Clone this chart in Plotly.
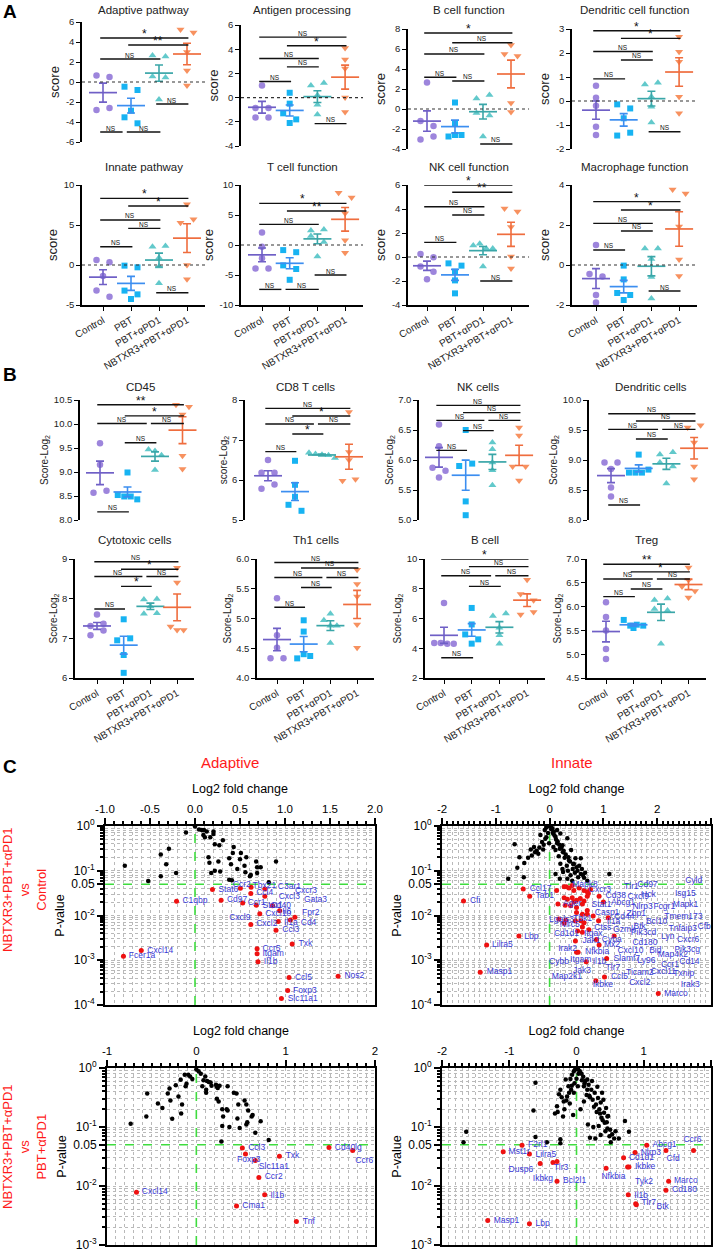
import numpy as np
import plotly.graph_objects as go

W, H = 714, 1253
FONT = "Arial, Liberation Sans, sans-serif"
GROUPS = ["Control", "PBT", "PBT+αPD1", "NBTXR3+PBT+αPD1"]

# ---------------- Panel A data (score per mouse) ----------------
adaptive_pathway = [[0.65, 0.5, -2.8, -2.6], [-0.47, -0.8, -2.87, -3.53, -4.13],
                    [2.65, 2.55, 0.55, 0.45, -1.75], [5.25, 4.95, 3.0, 1.15, -0.35]]
adaptive_pathway_sig = [(0, 3, 4.4, "*"), (1, 3, 3.7, "**"), (0, 2, 2.3, "NS"), (2, 3, -2.2, "NS"),
                        (0, 1, -5.0, "NS"), (1, 2, -5.0, "NS")]
antigen_processing = [[1.0, -0.85, -0.85, -1.65, -1.65], [0.4, -0.5, -1.3, -1.8, -2.1],
                      [1.0, 1.2, 0.2, -0.6, -1.4], [4.1, 3.15, 2.4, 0.0, -1.2]]
antigen_processing_sig = [(0, 3, 5.0, "NS"), (1, 3, 4.28, "*"), (0, 2, 3.23, "NS"), (1, 2, 2.54, "NS"),
                          (0, 1, 1.33, "NS"), (2, 3, -2.15, "NS")]
b_cell_function = [[2.65, -1.2, -1.7, -3.05, -2.75], [0.65, -1.5, -2.75, -2.6, -2.6],
                   [1.05, 1.4, -0.4, -0.65, -2.75], [6.4, 5.5, 5.3, 0.6, -0.3]]
b_cell_function_sig = [(0, 3, 7.6, "*"), (1, 3, 6.63, "NS"), (0, 2, 5.5, "NS"), (0, 1, 3.17, "NS"),
                       (1, 2, 2.8, "NS"), (2, 3, -3.5, "NS")]
dendritic_cell_function = [[0.64, 0.14, -0.2, -1.07, -1.42], [-0.14, -0.31, -0.72, -1.44, -1.32],
                           [0.69, 0.76, 0.18, -0.24, -0.9], [2.68, 2.05, 1.64, 0.18, -0.51]]
dendritic_cell_function_sig = [(0, 3, 2.93, "*"), (1, 3, 2.61, "*"), (0, 2, 2.06, "NS"), (1, 2, 1.71, "NS"),
                               (0, 1, 0.92, "NS"), (2, 3, -1.28, "NS")]
innate_pathway = [[0.63, 0.33, -1.38, -3.2, -3.96], [-0.08, -0.29, -3.2, -3.67, -4.25],
                  [2.29, 2.38, 0.92, -0.2, -2.29], [7.58, 5.29, 5.71, 0.0, -1.79]]
innate_pathway_sig = [(0, 3, 8.33, "*"), (1, 3, 7.38, "*"), (0, 2, 5.63, "NS"), (1, 2, 4.58, "NS"),
                      (0, 1, 2.29, "NS"), (2, 3, -3.46, "NS")]
t_cell_function = [[2.1, -0.3, -2.2, -3.9, -3.9], [-0.85, -1.2, -3.4, -4.0, -5.8],
                   [2.4, 2.6, 1.5, 0.5, -1.9], [8.7, 7.9, 5.3, 0.8, -1.3]]
t_cell_function_sig = [(0, 3, 6.94, "*"), (1, 3, 5.67, "**"), (0, 2, 3.44, "NS"), (2, 3, -5.0, "NS"),
                       (0, 1, -7.4, "NS"), (1, 2, -7.4, "NS")]
nk_cell_function = [[0.25, -0.03, -0.8, -1.22, -1.86], [-0.53, -0.72, -1.22, -1.95, -3.03],
                    [0.95, 1.1, 0.7, 0.7, -0.8], [4.05, 3.8, 2.5, 0.05, -0.95]]
nk_cell_function_sig = [(0, 3, 6.0, "*"), (1, 3, 5.39, "**"), (0, 2, 4.19, "NS"), (1, 2, 3.5, "NS"),
                        (0, 1, 1.22, "NS"), (2, 3, -2.0, "NS")]
macrophage_function = [[1.0, -0.45, -0.58, -1.5, -1.87], [-0.03, -0.72, -1.4, -1.5, -1.75],
                       [0.83, 0.83, 0.3, -0.6, -1.67], [3.78, 3.58, 1.92, 0.28, -0.55]]
macrophage_function_sig = [(0, 3, 3.17, "*"), (1, 3, 2.75, "*"), (0, 2, 2.08, "NS"), (1, 2, 1.7, "NS"),
                           (0, 1, 0.75, "NS"), (2, 3, -1.3, "NS")]

# ---------------- Panel B data (Score-Log2) ----------------
cd45 = [[9.6, 9.15, 8.57, 8.61], [8.99, 8.52, 8.49, 8.49, 8.43], [9.47, 9.44, 9.35, 9.04],
        [10.4, 10.36, 10.2, 9.34, 9.06]]
cd45_sig = [(0, 3, 10.4, "**"), (1, 3, 10.17, "*"), (0, 2, 10.01, "NS"), (2, 3, 10.01, "NS"),
            (1, 2, 9.61, "NS"), (0, 1, 8.17, "NS")]
cd8_t_cells = [[6.5, 6.18, 6.18, 5.78, 5.89], [6.48, 5.88, 5.58, 5.38, 5.23],
               [6.68, 6.65, 6.63, 6.62, 6.55], [7.7, 6.7, 6.5, 5.98, 6.02]]
cd8_t_cells_sig = [(0, 3, 7.79, "NS"), (1, 3, 7.6, "*"), (0, 2, 7.4, "NS"), (2, 3, 7.4, "NS"),
                   (1, 2, 7.15, "*"), (0, 1, 6.71, "NS")]
nk_cells = [[6.59, 6.23, 5.87, 5.82, 5.71], [6.5, 5.9, 5.94, 5.31, 5.08],
            [6.29, 6.18, 5.96, 5.83, 5.58], [6.54, 6.41, 5.89, 5.89, 5.66]]
nk_cells_sig = [(0, 3, 6.91, "NS"), (1, 3, 6.79, "NS"), (0, 2, 6.66, "NS"), (2, 3, 6.66, "NS"),
                (1, 2, 6.49, "NS"), (0, 1, 6.16, "NS")]
dendritic_cells = [[8.96, 8.96, 8.85, 8.54, 8.39], [9.09, 8.79, 8.79, 8.79, 8.84],
                   [9.09, 9.13, 8.96, 8.89, 8.61], [9.54, 9.58, 9.29, 8.89, 8.68]]
dendritic_cells_sig = [(0, 3, 9.77, "NS"), (1, 3, 9.65, "NS"), (0, 2, 9.51, "NS"), (2, 3, 9.51, "NS"),
                       (1, 2, 9.35, "NS"), (0, 1, 8.25, "NS")]
cytotoxic_cells = [[7.6, 7.31, 7.37, 7.08, 7.2], [7.48, 6.95, 7.0, 6.58, 6.13],
                   [7.98, 7.99, 7.81, 7.62, 7.63], [8.78, 8.41, 7.3, 7.21, 7.21]]
cytotoxic_cells_sig = [(0, 3, 8.93, "NS"), (1, 3, 8.74, "*"), (0, 2, 8.56, "NS"), (2, 3, 8.56, "NS"),
                       (1, 2, 8.31, "*"), (0, 1, 7.74, "NS")]
th1_cells = [[5.34, 4.72, 4.51, 4.33, 4.33], [4.97, 4.78, 4.33, 4.4, 4.37],
             [5.08, 4.97, 4.88, 4.88, 4.59], [5.82, 5.58, 5.37, 4.9, 4.51]]
th1_cells_sig = [(0, 3, 5.94, "NS"), (1, 3, 5.85, "NS"), (0, 2, 5.69, "NS"), (2, 3, 5.69, "NS"),
                 (1, 2, 5.52, "NS"), (0, 1, 5.19, "NS")]
b_cell = [[7.05, 4.35, 4.35, 4.3, 4.3], [6.71, 5.6, 4.93, 4.31, 4.6],
          [6.16, 6.33, 5.38, 4.87, 4.31], [8.6, 7.64, 7.22, 6.27, 6.44]]
b_cell_sig = [(0, 3, 10.0, "*"), (1, 3, 9.49, "NS"), (0, 2, 8.87, "NS"), (2, 3, 8.87, "NS"),
              (1, 2, 8.16, "NS"), (0, 1, 3.36, "NS")]
treg = [[6.09, 5.78, 5.5, 5.11, 4.9], [5.72, 5.6, 5.62, 5.6, 5.55],
        [6.14, 6.17, 5.95, 5.92, 5.22], [6.82, 6.56, 6.42, 6.33, 6.19]]
treg_sig = [(0, 3, 6.89, "**"), (1, 3, 6.73, "*"), (0, 2, 6.58, "NS"), (2, 3, 6.58, "NS"),
            (1, 2, 6.37, "NS"), (0, 1, 6.21, "NS")]

# ---------------- Panel C data (log2 fold change, P-value) ----------------
# Adaptive, NBTXR3+PBT+aPD1 vs Control
c1_ns_lfc = [-0.78, -0.52, -0.38, -0.29, -0.32, -0.38, -0.21, -0.10, 0.0, 0.045, 0.075, 0.10, 0.13, 0.093,
             0.11, 0.17, 0.205, 0.22, 0.27, 0.31, 0.15, 0.16, 0.18, 0.22, 0.26, 0.28, 0.38, 0.40, 0.42,
             0.38, 0.41, 0.47, 0.50, 0.51, 0.55, 0.56, 0.61, 0.62, 0.68, 0.69, 0.69, 0.73, 0.82, 0.90,
             0.57, 0.43, 0.205]
c1_ns_p = [0.13, 0.059, 0.23, 0.31, 0.14, 0.075, 0.089, 0.72, 0.97, 0.84, 0.81, 0.81, 0.75, 0.63, 0.56,
           0.56, 0.75, 0.39, 0.37, 0.48, 0.2, 0.15, 0.089, 0.10, 0.16, 0.096, 0.19, 0.14, 0.25, 0.063,
           0.061, 0.11, 0.18, 0.25, 0.13, 0.093, 0.075, 0.08, 0.16, 0.12, 0.089, 0.12, 0.055, 0.16, 0.2,
           0.34, 0.66]
c1_sig_lfc = [-0.795, -0.597, -0.205, 0.194, 0.504, 0.623, 0.62, 0.776, 0.776, 0.29, 0.53, 0.68, 0.86, 0.94,
              0.72, 1.11, 1.06, 0.925, 0.62, 0.90, 1.08, 0.69, 0.69, 0.70, 1.045, 1.59, 1.03, 0.96]
c1_sig_p = [0.00123, 0.00166, 0.0207, 0.038, 0.0407, 0.0427, 0.031, 0.039, 0.027, 0.022, 0.019, 0.017,
            0.0166, 0.0128, 0.011, 0.0091, 0.0079, 0.0073, 0.0063, 0.0047, 0.0023, 0.0018, 0.0014,
            0.00092, 0.00041, 0.00044, 0.00021, 0.000139]
c1_labels = ["Fcer1a", "Cxcl14", "C1qbp", "Stat6", "Ccr2", "Tbx21", "Ccl4", "C3ar1", "Cxcr3", "Cxcl3",
             "Gata3", "Cd97", "Ccr1", "Stat1", "Cd40", "Cxcl10", "Il6", "Fpr2", "Cxcl9", "Il1a", "Cd4",
             "Cxcl2", "Ccl3", "Txk", "Ccr5", "Itgam", "Il1b", "Ccl5", "Nos2", "Foxp3", "Slc11a1"]
c1_label_lfc = [-0.735, -0.53, -0.14, 0.26, 0.42, 0.64, 0.68, 0.92, 1.11, 0.93, 1.21, 0.355, 0.585, 0.75,
                0.84, 0.78, 0.97, 1.19, 0.38, 0.99, 1.175, 0.68, 0.97, 1.15, 0.75, 0.75, 0.765, 1.11, 1.66,
                1.09, 1.03]
c1_label_p = [0.00123, 0.00166, 0.0208, 0.038, 0.048, 0.047, 0.0314, 0.043, 0.036, 0.0255, 0.0225, 0.0225,
              0.0196, 0.0162, 0.0166, 0.0107, 0.0123, 0.0112, 0.0087, 0.0069, 0.0067, 0.0064, 0.0047,
              0.0023, 0.0018, 0.00139, 0.00092, 0.00041, 0.00044, 0.00021, 0.000139]

# Innate, NBTXR3+PBT+aPD1 vs Control
c2_ns_lfc = [-0.77, -0.65, -0.56, -0.60, -0.48, -0.47, -0.40, -0.35, -0.29, -0.24, -0.21, -0.17, -0.14,
             -0.12, -0.09, -0.06, -0.025, 0.02, 0.05, 0.08, -0.06, -0.01, 0.11, 0.14, 0.11, 0.17, 0.19,
             0.24, 0.25, 0.28, 0.20, 0.24, 0.32, 0.34, 0.36, 0.39, 0.43, 0.45, 0.50, 0.53, 0.58, 0.64,
             0.40, 0.48, 0.33, 0.19, 0.25, 0.11, 0.58, 1.11, 0.14, 0.20, 0.07, 0.33, 0.42, 0.70,
             0.03, 0.06, 0.09, 0.12, 0.15, 0.18, 0.22, 0.26, 0.30, 0.35, 0.38, 0.44, 0.47, 0.52, 0.55,
             0.60, 0.62, 0.66, -0.03, -0.08, -0.11, -0.19, -0.27, -0.33]
c2_ns_p = [0.066, 0.39, 0.2, 0.117, 0.072, 0.149, 0.196, 0.30, 0.34, 0.28, 0.24, 0.63, 0.44, 0.30, 0.81,
           0.93, 0.99, 0.97, 0.89, 0.75, 0.56, 0.41, 0.57, 0.41, 0.29, 0.21, 0.31, 0.37, 0.26, 0.196,
           0.144, 0.11, 0.13, 0.10, 0.17, 0.079, 0.11, 0.144, 0.12, 0.072, 0.085, 0.07, 0.29, 0.19,
           0.066, 0.066, 0.094, 0.085, 0.19, 0.085, 0.81, 0.68, 0.34, 0.53, 0.06, 0.06,
           0.85, 0.7, 0.62, 0.5, 0.45, 0.38, 0.33, 0.28, 0.23, 0.2, 0.16, 0.14, 0.09, 0.1, 0.13, 0.11,
           0.08, 0.09, 0.7, 0.52, 0.38, 0.33, 0.26, 0.22]
c2_sig_lfc = [-1.60, -1.17, -1.29, -0.57, -0.49, -0.37, 0.13, 0.27, 0.31, 0.36, 0.42, 0.45, 0.55, 0.64,
              0.70, 0.76, 0.72, 0.27, 0.33, 0.42, 0.50, 0.57, 0.64, 0.70, 0.92, 1.0, 0.155, 0.29, 0.39,
              0.45, 0.50, 0.61, 0.70, 0.50, 0.61, 0.81, 0.70, 0.17, 0.30, 0.48, 0.58, 0.64, 0.91, 1.09,
              0.27, 0.61, 0.52, 0.61, 0.73, 0.87, 0.48, 0.92, 1.20, 0.50, 0.53, 0.68, 1.06, 0.86, 1.02,
              2.02]
c2_sig_p = [0.021, 0.0022, 0.00054, 0.0035, 0.039, 0.027, 0.036, 0.044, 0.044, 0.041, 0.047, 0.036, 0.041,
            0.036, 0.034, 0.038, 0.031, 0.025, 0.023, 0.025, 0.022, 0.024, 0.021, 0.027, 0.027, 0.02,
            0.018, 0.017, 0.0165, 0.02, 0.015, 0.018, 0.013, 0.0117, 0.0107, 0.0098, 0.0107, 0.0083,
            0.0078, 0.0076, 0.0076, 0.0069, 0.0076, 0.0089, 0.0067, 0.0055, 0.0045, 0.0042, 0.0048,
            0.0029, 0.0027, 0.0022, 0.0035, 0.0015, 0.0015, 0.00092, 0.0011, 0.00035, 0.00042, 0.00018]
c2_labels = ["Cfi", "Ccl17", "Tab1", "Lbp", "Lilra5", "Masp1", "Mapk8", "Cxcr3", "Tlr1", "Cd97", "Cyld",
             "Hck", "Isg15", "Cxcl9", "Cd38", "Nlrp3", "Fcgr1", "Mapk1", "Abcg1", "Stat1", "Ager", "Casp1",
             "Zbp1", "Cd44", "Bcl10", "Tmem173", "Lgals3", "Tbk1", "Il1a", "Nlrc5", "Ctss", "Btk", "Gzmk",
             "Cfb", "Tnfaip3", "Pik3cd", "Cd1d1", "Itgax", "Lyn", "Cyba", "Cxcr6", "Jak1", "Cd180", "Mx2",
             "Irak2", "Nfkbia", "Itgam", "Cybb", "Il1b", "Cxcl10", "Bid", "Pik3cg", "Map4k2", "Slamf7",
             "Ly96", "Cd14", "Ccr1", "Tlr7", "Jak3", "Cxcl11", "Ticam2", "Txnip", "Map2k1", "Ccl5",
             "Cxcl2", "Irak3", "Ikbke", "Marco"]
c2_label_lfc = [-1.48, -0.37, -0.26, -0.47, -1.07, -1.17, 0.42, 0.73, 1.385, 1.63, 2.52, 1.70, 2.33, 1.45,
                1.04, 1.54, 1.93, 2.29, 1.14, 0.78, 0.25, 0.84, 1.43, 1.20, 1.79, 2.13, -0.01, 0.435, 1.06,
                0.19, 0.83, 1.56, 1.18, 2.75, 2.21, 1.51, 0.08, 0.64, 2.07, 0.97, 2.37, 0.61, 1.54, 1.01,
                0.16, 0.66, 0.38, -0.01, 0.80, 1.26, 1.85, 2.32, 2.01, 1.19, 1.63, 2.41, 2.07, 1.04, 0.435,
                1.88, 1.42, 2.30, 0.04, 1.14, 1.48, 2.44, 0.80, 2.13]
c2_label_p = [0.0214, 0.039, 0.027, 0.0034, 0.0022, 0.00054, 0.048, 0.038, 0.043, 0.048, 0.06, 0.029,
              0.030, 0.0256, 0.027, 0.0157, 0.0157, 0.0174, 0.0187, 0.0174, 0.018, 0.0113, 0.0107, 0.0093,
              0.0073, 0.0093, 0.008, 0.0083, 0.0073, 0.0062, 0.0052, 0.0056, 0.0048, 0.0056, 0.0049,
              0.004, 0.0038, 0.0038, 0.0034, 0.0029, 0.0028, 0.0027, 0.0025, 0.0022, 0.0018, 0.0015,
              0.001, 0.00092, 0.00092, 0.0016, 0.0016, 0.0017, 0.0013, 0.0011, 0.00095, 0.00092, 0.0008,
              0.00069, 0.00059, 0.00056, 0.00052, 0.00049, 0.00042, 0.00042, 0.00032, 0.00028, 0.00028,
              0.00018]

# Adaptive, NBTXR3+PBT+aPD1 vs PBT+aPD1
c3_ns_lfc = [-0.735, -0.56, -0.55, -0.43, -0.38, -0.30, -0.32, -0.29, -0.27, -0.23, -0.20, -0.16, -0.17,
             -0.175, -0.13, -0.12, -0.11, -0.09, -0.07, -0.045, 0.0, 0.026, 0.05, 0.067, 0.08, 0.10, 0.12,
             0.11, 0.14, 0.16, 0.17, 0.11, 0.22, 0.23, 0.24, 0.26, 0.23, 0.25, 0.29, 0.35, 0.34, 0.35,
             0.30, 0.29, 0.37, 0.46, 0.42, 0.45, 0.47, 0.485, 0.56, 0.54, 0.58, 0.56, 0.57, 0.63, 0.62,
             0.66, 0.72, 0.81, 0.28]
c3_ns_p = [0.114, 0.15, 0.37, 0.25, 0.21, 0.45, 0.37, 0.28, 0.138, 0.51, 0.33, 0.24, 0.17, 0.63, 0.77,
           0.49, 0.54, 0.77, 0.72, 0.65, 0.94, 0.88, 0.8, 0.49, 0.62, 0.72, 0.6, 0.43, 0.58, 0.57, 0.5,
           0.38, 0.52, 0.48, 0.46, 0.5, 0.30, 0.27, 0.20, 0.49, 0.2, 0.19, 0.15, 0.104, 0.1, 0.14, 0.38,
           0.37, 0.24, 0.096, 0.24, 0.28, 0.19, 0.11, 0.12, 0.16, 0.15, 0.08, 0.125, 0.06, 0.057]
c3_sig_lfc = [0.515, 0.55, 0.66, 0.93, 1.485, 1.75, 0.70, 0.765, 0.45, 1.12, -0.67]
c3_sig_p = [0.044, 0.035, 0.027, 0.032, 0.045, 0.04, 0.014, 0.0071, 0.0046, 0.0025, 0.0078]
c3_labels = ["Ccl3", "Foxp3", "Slc11a1", "Txk", "Cd40lg", "Ccr6", "Ccr2", "Il1b", "Cma1", "Tnf", "Cxcl14"]
c3_label_lfc = [0.58, 0.455, 0.70, 1.0, 1.55, 1.78, 0.765, 0.83, 0.515, 1.19, -0.61]
c3_label_p = [0.0437, 0.0277, 0.0214, 0.0324, 0.0447, 0.0263, 0.0144, 0.0069, 0.0046, 0.0025, 0.0078]

# Innate, NBTXR3+PBT+aPD1 vs PBT+aPD1
c4_ns_lfc = [-1.68, -1.64, -0.61, -0.64, -0.61, -0.44, -0.24, -0.24, -0.32, -0.29, -0.26, -0.24, -0.20,
             -0.18, -0.16, -0.14, -0.12, -0.10, -0.09, -0.08, -0.065, -0.05, -0.04, -0.02, 0.0, 0.025,
             0.05, 0.075, 0.10, 0.11, 0.13, 0.16, 0.18, 0.19, 0.22, 0.24, 0.27, 0.29, 0.31, 0.32, 0.34,
             0.36, 0.37, 0.38, 0.40, 0.41, 0.42, 0.44, 0.46, 0.47, 0.49, 0.51, 0.25, 0.20, 0.17, 0.28,
             0.36, 0.33, 0.56, 0.58, 0.63, 0.72, 0.78, 0.46, 0.06, 0.11, 0.02, 0.16, 0.23, -0.04, -0.19,
             0.03, 0.08, 0.12, 0.15, 0.2, 0.26, 0.3, 0.35, 0.39, 0.43, 0.45, 0.5, 0.53, -0.03, -0.07,
             -0.11, -0.15, -0.22, -0.28, 0.0]
c4_ns_p = [0.055, 0.083, 0.56, 0.19, 0.068, 0.055, 0.062, 0.053, 0.17, 0.225, 0.36, 0.43, 0.15, 0.2, 0.64,
           0.33, 0.49, 0.25, 0.65, 0.43, 0.77, 0.16, 0.88, 0.94, 0.97, 0.94, 0.88, 0.8, 0.71, 0.49, 0.6,
           0.43, 0.52, 0.34, 0.43, 0.29, 0.38, 0.24, 0.48, 0.31, 0.2, 0.26, 0.144, 0.38, 0.29, 0.175,
           0.118, 0.21, 0.094, 0.153, 0.07, 0.055, 0.1, 0.066, 0.11, 0.064, 0.073, 0.104, 0.064, 0.085,
           0.064, 0.126, 0.083, 0.15, 0.2, 0.27, 0.49, 0.64, 0.6, 0.38, 0.27,
           0.8, 0.62, 0.55, 0.35, 0.32, 0.22, 0.18, 0.17, 0.13, 0.085, 0.12, 0.09, 0.075, 0.55, 0.5,
           0.38, 0.28, 0.32, 0.18, 0.66]
c4_sig_lfc = [-0.81, -1.09, -0.70, -0.54, -0.35, -0.29, -0.29, -1.32, -0.70, 1.045, 0.87, 0.70, 0.76, 0.78,
              0.44, 1.33, 1.74, 1.37, 1.33, 0.77, 0.88, 0.89]
c4_sig_p = [0.049, 0.038, 0.035, 0.024, 0.025, 0.026, 0.012, 0.0026, 0.0023, 0.049, 0.037, 0.030, 0.021,
            0.021, 0.020, 0.04, 0.04, 0.012, 0.0085, 0.0071, 0.005, 0.0048]
c4_labels = ["F2rl1", "Mst1r", "Lilra5", "Dusp6", "Tlr3", "Ikbkg", "Bcl2l1", "Masp1", "Lbp", "Abcg1", "Ccr6",
             "Nlrp3", "Cd1d1", "Cfd", "Ikbke", "Nfkbia", "Tyk2", "Marco", "Cd180", "Il1b", "Tlr7", "Btk"]
c4_label_lfc = [-0.72, -1.01, -0.61, -1.01, -0.34, -0.65, -0.20, -1.23, -0.61, 1.13, 1.59, 0.955, 0.78,
                1.34, 0.87, 0.37, 0.87, 1.45, 1.42, 0.86, 0.965, 1.19]
c4_label_p = [0.05, 0.038, 0.034, 0.0186, 0.020, 0.013, 0.012, 0.0026, 0.0023, 0.049, 0.06, 0.037, 0.030,
              0.0285, 0.021, 0.0144, 0.0118, 0.012, 0.0085, 0.0069, 0.0052, 0.0044]

# ---------------- styling ----------------
PT_COLORS = ["#9d85dc", "#17b3f2", "#62c9cb", "#f7915f"]
LINE_COLORS = ["#6f5fc6", "#3c8ef0", "#3aa6a8", "#ef6d3e"]
SYMBOLS = ["circle", "square", "triangle-up", "triangle-down"]
SIZES = [6.5, 6.0, 7.0, 7.0]
GRID = "#b9b9b9"
TXT = "#222222"

fig = go.Figure()
lay = {}
ann = []
shp = []
counter = [0]


def new_axes(x0, x1, y0, y1, xcfg, ycfg):
    counter[0] += 1
    k = counter[0]
    s = "" if k == 1 else str(k)
    lay["xaxis" + s] = dict(domain=[x0 / W, x1 / W], anchor="y" + s, automargin=False, **xcfg)
    lay["yaxis" + s] = dict(domain=[1 - y1 / H, 1 - y0 / H], anchor="x" + s, automargin=False, **ycfg)
    return "x" + s, "y" + s


def fmt(v, dec):
    s = f"{v:.{dec}f}"
    if float(s) == 0:
        s = s.lstrip("-")
    return s


def spread(vals, ppu_y, ppu_x):
    order = sorted(range(len(vals)), key=lambda i: -vals[i])
    rows = []
    for i in order:
        if rows and abs(vals[rows[-1][0]] - vals[i]) * ppu_y < 6.5:
            rows[-1].append(i)
        else:
            rows.append([i])
    off = [0.0] * len(vals)
    for r in rows:
        n = len(r)
        step = 13.0 if n == 2 else 6.5
        for k, i in enumerate(sorted(r)):
            off[i] = (k - (n - 1) / 2) * step / ppu_x
    return off


def dot_panel(title, data, sig, ymin, ymax, dtick, dec, ytitle, ytsize, xpx, ypx, title_y, show_x, zero):
    spine, ctrl, sp = xpx
    top, bot = ypx
    xlo = (spine - ctrl) / sp
    xhi = 3.65
    right = ctrl + xhi * sp
    xcfg = dict(range=[xlo, xhi], showgrid=False, zeroline=False)
    if show_x:
        xcfg.update(showline=True, linecolor="black", linewidth=1.5, ticks="outside", ticklen=4,
                    tickwidth=1.3, tickcolor="black", tickmode="array", tickvals=[0, 1, 2, 3],
                    ticktext=GROUPS, tickangle=-30, tickfont=dict(size=10, color=TXT, family=FONT))
    else:
        xcfg.update(visible=False)
    tv = list(np.arange(ymin, ymax + dtick / 2, dtick))
    ycfg = dict(range=[ymin, ymax], showgrid=False, zeroline=False, showline=True, linecolor="black",
                linewidth=1.5, ticks="outside", ticklen=4, tickwidth=1.3, tickcolor="black",
                tickmode="array", tickvals=tv, ticktext=[fmt(v, dec) for v in tv],
                tickfont=dict(size=9.5, color=TXT, family=FONT),
                title=dict(text=ytitle, font=dict(size=ytsize, family=FONT, color=TXT), standoff=3))
    xa, ya = new_axes(spine, right, top, bot, xcfg, ycfg)
    ppu_y = (bot - top) / (ymax - ymin)
    if zero:
        shp.append(dict(type="line", xref=xa, yref=ya, x0=xlo, x1=xhi, y0=0, y1=0,
                        line=dict(color="#333333", width=1.2, dash="dot")))
    for g, vals in enumerate(data):
        offs = spread(vals, ppu_y, sp)
        fig.add_trace(go.Scatter(x=[g + o for o in offs], y=vals, mode="markers", xaxis=xa, yaxis=ya,
                                 marker=dict(symbol=SYMBOLS[g], size=SIZES[g], color=PT_COLORS[g]),
                                 showlegend=False, hoverinfo="skip", cliponaxis=False))
    for g, vals in enumerate(data):
        m = float(np.mean(vals))
        se = float(np.std(vals, ddof=1) / np.sqrt(len(vals)))
        fig.add_trace(go.Scatter(x=[g], y=[m], mode="markers", xaxis=xa, yaxis=ya,
                                 marker=dict(symbol="line-ew", size=20, color=LINE_COLORS[g],
                                             line=dict(width=1.7, color=LINE_COLORS[g])),
                                 error_y=dict(type="data", array=[se], visible=True, thickness=1.6,
                                              width=4, color=LINE_COLORS[g]),
                                 showlegend=False, hoverinfo="skip", cliponaxis=False))
    for (g1, g2, yv, lab) in sig:
        x0 = g1 - 0.1
        x1 = g2 + 0.05
        if any(o[0] == g2 and abs(o[2] - yv) < 1e-9 for o in sig):
            x1 = g2 - 0.3
        if any(o[1] == g1 and abs(o[2] - yv) < 1e-9 for o in sig):
            x0 = g1 - 0.15
        shp.append(dict(type="line", xref=xa, yref=ya, x0=x0, x1=x1, y0=yv, y1=yv,
                        line=dict(color="#111111", width=1.4)))
        star = lab != "NS"
        ann.append(dict(x=(x0 + x1) / 2, y=yv, xref=xa, yref=ya, text=lab, showarrow=False,
                        xanchor="center", yanchor="bottom", yshift=-5 if star else -1.5,
                        font=dict(size=12 if star else 6.5, family=FONT, color="#111111")))
    ann.append(dict(x=(spine + right) / 2 / W, y=1 - title_y / H, xref="paper", yref="paper", text=title,
                    showarrow=False, xanchor="center", yanchor="middle",
                    font=dict(size=11.5, family=FONT, color=TXT)))


def volcano(xpx, ypx, xr, xdt, xdec, xminor, lowexp, ns_lfc, ns_p, sig_lfc, sig_p, labs, lab_lfc, lab_p):
    xt = list(np.arange(xr[0], xr[1] + xdt / 2, xdt))
    xm = list(np.arange(xr[0], xr[1] + xminor / 2, xminor))
    yt = [1, 0.1, 0.05] + [10.0 ** e for e in range(-2, lowexp - 1, -1)]
    ytt = ["10<sup>0</sup>", "10<sup>-1</sup>", "0.05"] + [f"10<sup>{e}</sup>" for e in range(-2, lowexp - 1, -1)]
    ym = [k * 10.0 ** e for e in range(lowexp, 0) for k in range(2, 10)]
    xcfg = dict(range=xr, side="top", showline=True, mirror=True, linecolor="black", linewidth=2,
                ticks="outside", ticklen=6, tickwidth=2, tickcolor="black", tickmode="array",
                tickvals=xt, ticktext=[fmt(v, xdec) for v in xt],
                tickfont=dict(size=11.5, family=FONT, color="black"),
                showgrid=True, gridcolor=GRID, griddash="dot", gridwidth=1, zeroline=False,
                minor=dict(tickmode="array", tickvals=xm, ticks="outside", ticklen=3.5, tickwidth=1.5,
                           tickcolor="black", showgrid=True, gridcolor=GRID, griddash="dot", gridwidth=1),
                title=dict(text="Log2 fold change", font=dict(size=12.5, family=FONT, color="black"),
                           standoff=7))
    ycfg = dict(type="log", range=[lowexp, 0], showline=True, mirror=True, linecolor="black", linewidth=2,
                ticks="outside", ticklen=6, tickwidth=2, tickcolor="black", tickmode="array",
                tickvals=yt, ticktext=ytt, tickfont=dict(size=12, family=FONT, color="black"),
                showgrid=True, gridcolor=GRID, griddash="dot", gridwidth=1, zeroline=False,
                minor=dict(tickmode="array", tickvals=ym, ticks="outside", ticklen=3.5, tickwidth=1.5,
                           tickcolor="black", showgrid=True, gridcolor=GRID, griddash="dot", gridwidth=1),
                title=dict(text="P-value", font=dict(size=12.5, family=FONT, color="black"), standoff=4))
    xa, ya = new_axes(xpx[0], xpx[1], ypx[0], ypx[1], xcfg, ycfg)
    lowv = 10.0 ** lowexp
    fig.add_trace(go.Scatter(x=[0, 0], y=[lowv, 1], mode="lines", xaxis=xa, yaxis=ya,
                             line=dict(color="#3fdc3f", width=1.6, dash="dash"),
                             showlegend=False, hoverinfo="skip"))
    fig.add_trace(go.Scatter(x=list(xr), y=[0.05, 0.05], mode="lines", xaxis=xa, yaxis=ya,
                             line=dict(color="#3fdc3f", width=1.6, dash="dash"),
                             showlegend=False, hoverinfo="skip"))
    fig.add_trace(go.Scatter(x=ns_lfc, y=ns_p, mode="markers", xaxis=xa, yaxis=ya,
                             marker=dict(size=4.5, color="black"), showlegend=False, hoverinfo="skip"))
    fig.add_trace(go.Scatter(x=sig_lfc, y=sig_p, mode="markers", xaxis=xa, yaxis=ya,
                             marker=dict(size=5, color="#ee1111"), showlegend=False, hoverinfo="skip"))
    fig.add_trace(go.Scatter(x=lab_lfc, y=lab_p, mode="text", text=labs, textposition="middle right",
                             xaxis=xa, yaxis=ya, textfont=dict(size=8.5, family=FONT, color="#3a3ad6"),
                             showlegend=False, hoverinfo="skip", cliponaxis=False))


# ---------------- Panel A ----------------
A_COLS = [(82, 103, 28), (241, 262, 27.7), (408, 427, 28), (572, 596, 27.7)]
A_ROW1_Y = [(22, 142), (25, 146), (29, 149), (29, 149)]
A_ROW2_Y = (185, 305)
a_row1 = [("Adaptive pathway", adaptive_pathway, adaptive_pathway_sig, -6, 6, 2),
          ("Antigen processing", antigen_processing, antigen_processing_sig, -4, 6, 2),
          ("B cell function", b_cell_function, b_cell_function_sig, -4, 8, 2),
          ("Dendritic cell function", dendritic_cell_function, dendritic_cell_function_sig, -2, 3, 1)]
a_row2 = [("Innate pathway", innate_pathway, innate_pathway_sig, -5, 10, 5),
          ("T cell function", t_cell_function, t_cell_function_sig, -10, 10, 5),
          ("NK cell function", nk_cell_function, nk_cell_function_sig, -4, 6, 2),
          ("Macrophage function", macrophage_function, macrophage_function_sig, -2, 4, 2)]
for i, (t, d, s, lo, hi, dt) in enumerate(a_row1):
    dot_panel(t, d, s, lo, hi, dt, 0, "score", 13, A_COLS[i], A_ROW1_Y[i], 10, False, True)
for i, (t, d, s, lo, hi, dt) in enumerate(a_row2):
    dot_panel(t, d, s, lo, hi, dt, 0, "score", 13, A_COLS[i], A_ROW2_Y, 167, True, True)

# ---------------- Panel B ----------------
B1_COLS = [(80, 100, 27.5), (245, 268, 27), (419, 439, 26.7), (589, 611, 27.7)]
B2_COLS = [(75, 97, 26.7), (257, 277, 26.7), (425, 444, 27.7), (587, 606, 27.5)]
LOG2 = "Score-Log<sub>2</sub>"
b_row1 = [("CD45", cd45, cd45_sig, 8.0, 10.5, 0.5, 1, LOG2),
          ("CD8 T cells", cd8_t_cells, cd8_t_cells_sig, 5, 8, 1, 0, "score-Log<sub>2</sub>"),
          ("NK cells", nk_cells, nk_cells_sig, 5.0, 7.0, 0.5, 1, LOG2),
          ("Dendritic cells", dendritic_cells, dendritic_cells_sig, 8.0, 10.0, 0.5, 1, LOG2)]
b_row2 = [("Cytotoxic cells", cytotoxic_cells, cytotoxic_cells_sig, 6, 9, 1, 0, LOG2),
          ("Th1 cells", th1_cells, th1_cells_sig, 4.0, 6.0, 0.5, 1, LOG2),
          ("B cell", b_cell, b_cell_sig, 2, 10, 2, 0, LOG2),
          ("Treg", treg, treg_sig, 4.5, 7.0, 0.5, 1, LOG2)]
for i, (t, d, s, lo, hi, dt, dec, yt) in enumerate(b_row1):
    dot_panel(t, d, s, lo, hi, dt, dec, yt, 10, B1_COLS[i], (400, 520), 387, False, False)
for i, (t, d, s, lo, hi, dt, dec, yt) in enumerate(b_row2):
    dot_panel(t, d, s, lo, hi, dt, dec, yt, 10, B2_COLS[i], (559, 678), 540, True, False)

# ---------------- Panel C ----------------
volcano((105, 375), (826, 1005), [-1, 2], 0.5, 1, 0.1, -4, c1_ns_lfc, c1_ns_p, c1_sig_lfc, c1_sig_p,
        c1_labels, c1_label_lfc, c1_label_p)
volcano((442, 711), (826, 1005), [-2, 3], 1, 0, 0.1, -4, c2_ns_lfc, c2_ns_p, c2_sig_lfc, c2_sig_p,
        c2_labels, c2_label_lfc, c2_label_p)
volcano((107, 375), (1068, 1245), [-1, 2], 1, 0, 0.1, -3, c3_ns_lfc, c3_ns_p, c3_sig_lfc, c3_sig_p,
        c3_labels, c3_label_lfc, c3_label_p)
volcano((442, 711), (1068, 1245), [-2, 2], 1, 0, 0.1, -3, c4_ns_lfc, c4_ns_p, c4_sig_lfc, c4_sig_p,
        c4_labels, c4_label_lfc, c4_label_p)


def paper_text(px, py, text, size, color="black", bold=False, angle=0):
    ann.append(dict(x=px / W, y=1 - py / H, xref="paper", yref="paper", text=f"<b>{text}</b>" if bold else text,
                    showarrow=False, textangle=angle, xanchor="center", yanchor="middle",
                    font=dict(size=size, family=FONT, color=color)))


paper_text(10, 12, "A", 19, bold=True)
paper_text(10, 374, "B", 19, bold=True)
paper_text(10, 766, "C", 19, bold=True)
paper_text(230, 762, "Adaptive", 15, color="#ff1a1a")
paper_text(572, 762, "Innate", 15, color="#ff1a1a")
paper_text(24, 890, "NBTXR3+PBT+αPD1<br>vs<br>Control", 13, color="#ff1a1a", angle=-90)
paper_text(24, 1147, "NBTXR3+PBT+αPD1<br>vs<br>PBT+αPD1", 13, color="#ff1a1a", angle=-90)

fig.update_layout(width=W, height=H, margin=dict(l=0, r=0, t=0, b=0, autoexpand=False),
                  paper_bgcolor="white", plot_bgcolor="white", showlegend=False, annotations=ann,
                  shapes=shp, font=dict(family=FONT), **lay)
fig.write_html("out.html", config={"displayModeBar": False},
               post_script="document.body.style.margin='0px';document.body.style.overflow='hidden';")
